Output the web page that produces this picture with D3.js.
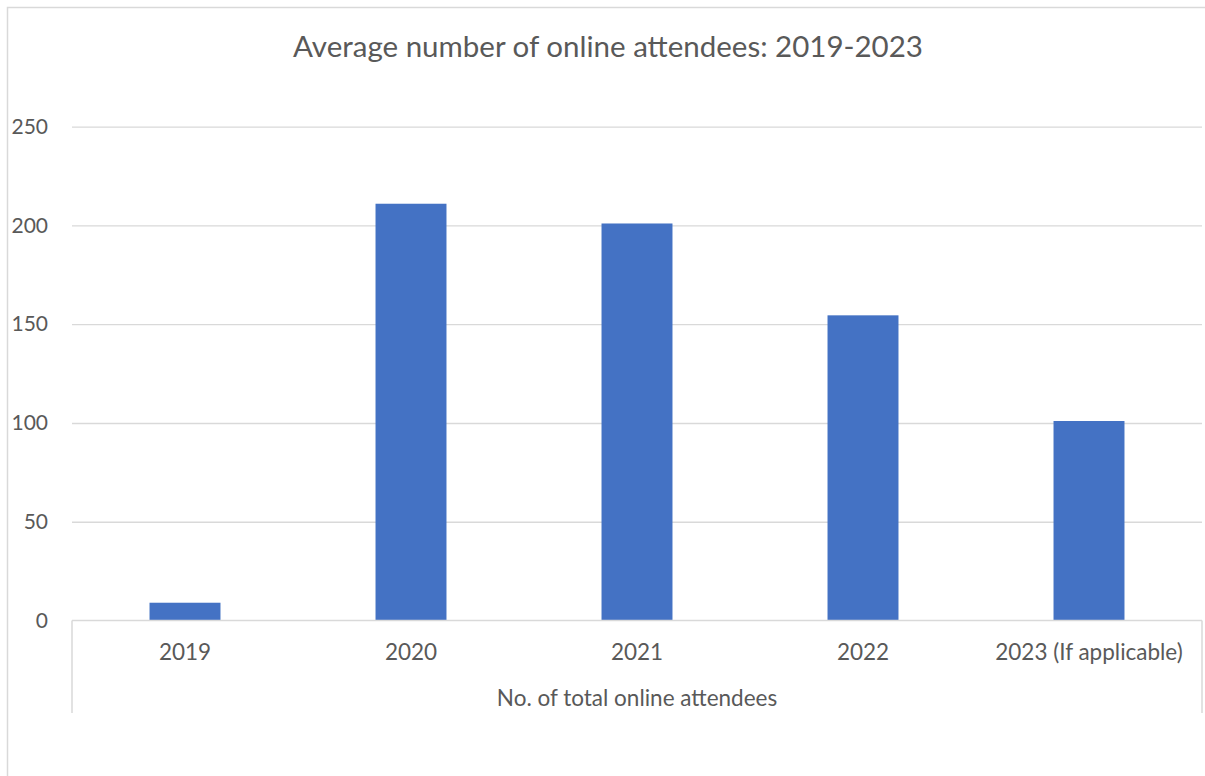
<!DOCTYPE html>
<html>
<head>
<meta charset="utf-8">
<script src="https://cdnjs.cloudflare.com/ajax/libs/d3/7.8.5/d3.min.js"></script>
<style>
  html, body { margin: 0; padding: 0; background: #fff; }
  svg { display: block; }
  text { font-family: Lato, "Open Sans", sans-serif; fill: #595959; }
</style>
</head>
<body>
<svg id="chart" width="1205" height="776"></svg>
<script>
// Chart data
const categories = ["2019", "2020", "2021", "2022", "2023 (If applicable)"];
const attendees = [9, 211, 201, 154.5, 101];
const yTicks = [0, 50, 100, 150, 200, 250];
const chartTitle = "Average number of online attendees: 2019-2023";
const groupLabel = "No. of total online attendees";

const W = 1205, H = 776;
const margin = { left: 72, right: 3, top: 127, bottom: 155 };
const plotW = W - margin.left - margin.right;
const zeroY = 620.5;

const svg = d3.select("#chart");

// Outer chart-area border
svg.append("rect")
  .attr("x", 7.5).attr("y", 7.5)
  .attr("width", W + 20).attr("height", H + 20)
  .attr("fill", "none").attr("stroke", "#D9D9D9").attr("stroke-width", 1.5);

const x = d3.scaleBand()
  .domain(categories)
  .range([margin.left, margin.left + plotW])
  .paddingInner(0.686).paddingOuter(0.343);

const y = d3.scaleLinear()
  .domain([0, 250])
  .range([zeroY, 126.7]);

// Horizontal gridlines and y-axis labels
const yAxis = d3.axisLeft(y)
  .tickValues(yTicks)
  .tickSize(-plotW)
  .tickPadding(24)
  .tickFormat(d3.format("d"));

const gy = svg.append("g")
  .attr("transform", `translate(${margin.left},0)`)
  .call(yAxis);
gy.select(".domain").remove();
gy.selectAll(".tick line")
  .attr("stroke", "#D9D9D9").attr("stroke-width", 1.3)
  .filter(d => d === 0).remove();
gy.selectAll(".tick text")
  .attr("font-size", 21)
  .attr("fill", "#595959")
  .attr("font-family", "Lato, 'Open Sans', sans-serif");

// Bars
svg.append("g").selectAll("rect")
  .data(categories)
  .join("rect")
  .attr("x", d => x(d))
  .attr("width", x.bandwidth())
  .attr("y", (d, i) => y(attendees[i]))
  .attr("height", (d, i) => y(0) - y(attendees[i]))
  .attr("fill", "#4472C4");

// Category axis: baseline plus outer group brackets
const ax = svg.append("g").attr("stroke", "#D9D9D9").attr("stroke-width", 1.5).attr("fill", "none");
ax.append("line")
  .attr("x1", margin.left).attr("x2", margin.left + plotW)
  .attr("y1", y(0)).attr("y2", y(0));
ax.append("line")
  .attr("x1", margin.left).attr("x2", margin.left)
  .attr("y1", y(0)).attr("y2", 713);
ax.append("line")
  .attr("x1", margin.left + plotW).attr("x2", margin.left + plotW)
  .attr("y1", y(0)).attr("y2", 713);

// Category labels
svg.append("g").selectAll("text")
  .data(categories)
  .join("text")
  .attr("x", d => x(d) + x.bandwidth() / 2)
  .attr("y", 660)
  .attr("text-anchor", "middle")
  .attr("font-size", 22.5)
  .text(d => d);

// Group label beneath categories
svg.append("text")
  .attr("x", margin.left + plotW / 2)
  .attr("y", 706)
  .attr("text-anchor", "middle")
  .attr("font-size", 22.5)
  .text(groupLabel);

// Title
svg.append("text")
  .attr("x", 608)
  .attr("y", 57)
  .attr("text-anchor", "middle")
  .attr("font-size", 29.5)
  .text(chartTitle);
</script>
</body>
</html>
